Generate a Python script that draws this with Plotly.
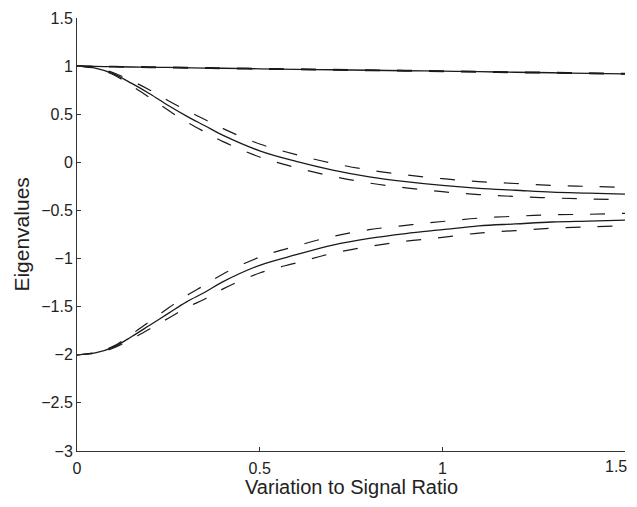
import plotly.graph_objects as go

x_vals = [0, 0.05, 0.1, 0.15, 0.2, 0.25, 0.3, 0.35, 0.4, 0.5, 0.6, 0.7, 0.8, 0.9, 1.0, 1.1, 1.2, 1.3, 1.4, 1.5]

top_solid = [1.0, 0.997, 0.994, 0.991, 0.989, 0.986, 0.983, 0.98, 0.978, 0.972, 0.967, 0.962, 0.957, 0.952, 0.947, 0.942, 0.936, 0.931, 0.925, 0.92]
top_upper = [1.0, 0.999, 0.997, 0.995, 0.993, 0.99, 0.987, 0.984, 0.982, 0.976, 0.971, 0.966, 0.961, 0.956, 0.951, 0.946, 0.94, 0.935, 0.929, 0.924]
top_lower = [1.0, 0.995, 0.991, 0.988, 0.985, 0.982, 0.979, 0.976, 0.974, 0.968, 0.963, 0.958, 0.953, 0.948, 0.943, 0.938, 0.932, 0.927, 0.921, 0.916]

mid_solid = [1.0, 0.98, 0.92, 0.82, 0.71, 0.59, 0.48, 0.38, 0.28, 0.12, 0.01, -0.08, -0.15, -0.20, -0.24, -0.27, -0.29, -0.31, -0.32, -0.33]
mid_upper = [1.0, 0.983, 0.93, 0.845, 0.75, 0.64, 0.54, 0.445, 0.35, 0.19, 0.08, -0.01, -0.08, -0.13, -0.17, -0.20, -0.22, -0.24, -0.25, -0.26]
mid_lower = [1.0, 0.977, 0.91, 0.795, 0.67, 0.54, 0.42, 0.315, 0.215, 0.055, -0.055, -0.145, -0.215, -0.265, -0.305, -0.335, -0.355, -0.37, -0.38, -0.39]

bot_solid = [-2.0, -1.98, -1.92, -1.81, -1.69, -1.57, -1.45, -1.35, -1.24, -1.07, -0.96, -0.86, -0.79, -0.74, -0.70, -0.66, -0.64, -0.62, -0.61, -0.60]
bot_upper = [-2.0, -1.975, -1.91, -1.785, -1.65, -1.515, -1.385, -1.275, -1.16, -0.985, -0.87, -0.77, -0.70, -0.655, -0.615, -0.58, -0.56, -0.545, -0.54, -0.53]
bot_lower = [-2.0, -1.985, -1.93, -1.835, -1.73, -1.62, -1.51, -1.42, -1.315, -1.15, -1.045, -0.945, -0.875, -0.82, -0.78, -0.735, -0.71, -0.685, -0.67, -0.66]

x_ticks = [0, 0.5, 1, 1.5]
x_tick_text = ["0", "0.5", "1", ""]
x_last_label = "1.5"
y_ticks = [1.5, 1, 0.5, 0, -0.5, -1, -1.5, -2, -2.5, -3]

x_title = "Variation to Signal Ratio"
y_title = "Eigenvalues"

LINE = "#1a1a1a"
DASH = "15px,17px"

fig = go.Figure()

for series in [top_upper, top_lower, mid_upper, mid_lower, bot_upper, bot_lower]:
    fig.add_trace(go.Scatter(x=x_vals, y=series, mode="lines",
                             line=dict(color=LINE, width=1.2, dash=DASH, shape="spline"),
                             showlegend=False, hoverinfo="skip"))

for series in [top_solid, mid_solid, bot_solid]:
    fig.add_trace(go.Scatter(x=x_vals, y=series, mode="lines",
                             line=dict(color=LINE, width=1.3, shape="spline"),
                             showlegend=False))

font_family = "Liberation Sans, Arial, Helvetica, sans-serif"

# page body has an 8px margin, so the figure is sized/margined to compensate
fig.update_layout(
    width=629, height=491,
    margin=dict(l=69, r=12, t=10, b=48),
    paper_bgcolor="white", plot_bgcolor="white",
    font=dict(family=font_family, color="#222", size=16),
    xaxis=dict(
        range=[0, 1.5], tickvals=x_ticks, ticktext=x_tick_text, ticks="inside", ticklen=4,
        tickcolor="#333", showline=True, linecolor="#333", linewidth=1, showgrid=False,
        zeroline=False, automargin=False, tickfont=dict(size=16), ticklabelstandoff=3,
    ),
    yaxis=dict(
        range=[-3, 1.5], tickvals=y_ticks, ticks="inside", ticklen=4, tickcolor="#333",
        showline=True, linecolor="#333", linewidth=1, showgrid=False, zeroline=False,
        automargin=False, tickfont=dict(size=16),
    ),
    annotations=[
        dict(text=x_last_label, xref="x", yref="paper", x=x_ticks[-1], y=0,
             xanchor="right", yanchor="top", xshift=4, yshift=-5, showarrow=False,
             font=dict(size=16)),
        dict(text=x_title, xref="paper", yref="paper", x=0.5, y=-0.052,
             xanchor="center", yanchor="top", showarrow=False, font=dict(size=20)),
        dict(text=y_title, xref="paper", yref="paper", x=-0.102, y=0.5,
             xanchor="center", yanchor="middle", showarrow=False, textangle=-90,
             font=dict(size=21)),
    ],
)

fig.write_html("out.html")
